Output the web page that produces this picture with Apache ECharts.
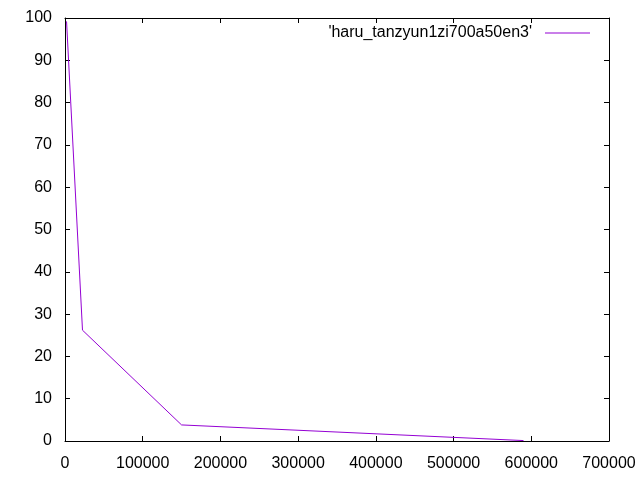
<!DOCTYPE html>
<html>
<head>
<meta charset="utf-8">
<script src="https://cdn.jsdelivr.net/npm/echarts@6/dist/echarts.min.js"></script>
<style>html,body{margin:0;padding:0;background:#fff;}#c{width:640px;height:480px;}</style>
</head>
<body>
<div id="c"></div>
<script>
var seriesName = "'haru_tanzyun1zi700a50en3'";
var xValues = [2000, 22500, 150000, 590000];
var yValues = [99.2, 26.2, 3.8, 0.1];

var chart = echarts.init(document.getElementById('c'), null, {renderer: 'canvas'});
var font = 'Liberation Sans, Arial, sans-serif';
var axisCommon = {
  axisLine: {show: true, onZero: false, lineStyle: {color: '#000', width: 1}},
  axisTick: {show: true, inside: true, length: 5, lineStyle: {color: '#000', width: 1}},
  splitLine: {show: false}
};
var data = xValues.map(function (x, i) { return [x, yValues[i]]; });
chart.setOption({
  animation: false,
  backgroundColor: '#fff',
  grid: {left: 65, right: 31, top: 18, bottom: 39, containLabel: false},
  legend: {
    show: true,
    right: 45, top: 20,
    align: 'right',
    icon: 'rect',
    itemWidth: 45, itemHeight: 1, itemGap: 0,
    textStyle: {fontFamily: font, fontSize: 16, color: '#000', padding: [0, 8, 0, 0]},
    data: [seriesName]
  },
  xAxis: [
    Object.assign({type: 'value', min: 0, max: 700000, interval: 100000, position: 'bottom',
      axisLabel: {show: true, margin: 15, color: '#000', fontFamily: font, fontSize: 16,
        formatter: function (v) { return String(v); }}}, axisCommon),
    Object.assign({type: 'value', min: 0, max: 700000, interval: 100000, position: 'top',
      axisLabel: {show: false}}, axisCommon)
  ],
  yAxis: [
    Object.assign({type: 'value', min: 0, max: 100, interval: 10, position: 'left',
      axisLabel: {show: true, margin: 13, color: '#000', fontFamily: font, fontSize: 16}}, axisCommon),
    Object.assign({type: 'value', min: 0, max: 100, interval: 10, position: 'right',
      axisLabel: {show: false}}, axisCommon)
  ],
  series: [{
    name: seriesName,
    type: 'line',
    data: data,
    symbol: 'none',
    lineStyle: {color: '#9400d3', width: 1},
    itemStyle: {color: '#9400d3'}
  }]
});
</script>
</body>
</html>
